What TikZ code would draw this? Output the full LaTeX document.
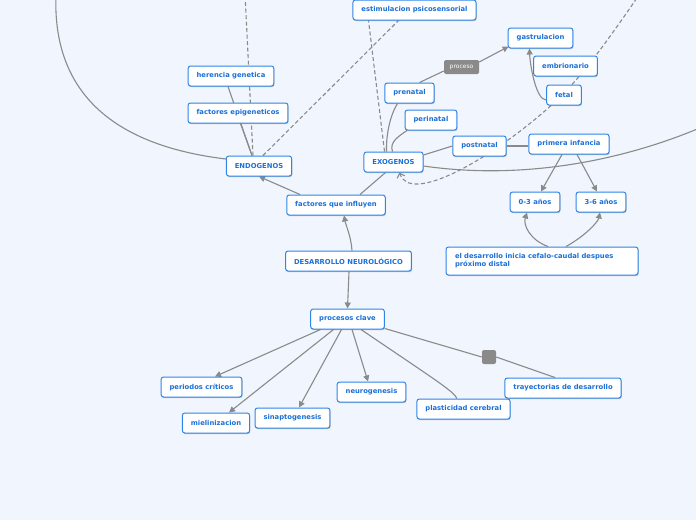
\documentclass[tikz,border=0pt]{standalone}
\usepackage{fontspec}
\setmainfont{DejaVu Sans}
\usetikzlibrary{arrows.meta,calc,shadows}
\definecolor{bgc}{HTML}{F1F5FD}
\definecolor{bord}{HTML}{2F86E8}
\definecolor{txt}{HTML}{1B70D8}
\definecolor{ln}{HTML}{8A8A8A}
\pgfdeclarelayer{bg}
\pgfsetlayers{bg,main}
\tikzset{
  box/.style={draw=bord, line width=1pt, fill=white, rounded corners=2.5pt,
    minimum height=20pt, inner xsep=8.5pt, inner ysep=0pt,
    font=\fontsize{6.8}{8}\selectfont\bfseries, text=txt,
    drop shadow={shadow xshift=0.6pt, shadow yshift=-1.2pt, opacity=0.35, fill=black!60}},
  conn/.style={draw=ln, line width=1.1pt},
  arr/.style={conn, -{Triangle[length=6pt,width=6pt]}},
  dsh/.style={conn, dash pattern=on 4pt off 2.5pt},
}
\begin{document}
\begin{tikzpicture}[x=1pt,y=-1pt]
\useasboundingbox (0,0) rectangle (696,520);
% nodes
\node[box] (ep) at (414.5,10) {estimulacion psicosensorial};
\node[box] (ga) at (540.5,38) {gastrulacion};
\node[box] (em) at (565.5,66) {embrionario};
\node[box] (ft) at (564,95) {fetal};
\node[fill=ln, rounded corners=1.5pt, text=white, font=\fontsize{6}{7}\selectfont,
  minimum width=35pt, minimum height=14pt, inner sep=0pt] (pc) at (461.5,67) {proceso};
\node[box] (pn) at (409.5,93) {prenatal};
\node[box] (pr) at (431,120) {perinatal};
\node[box] (po) at (479.5,146) {postnatal};
\node[box] (pi) at (569,144) {primera infancia};
\node[box] (ex) at (393.5,162) {EXOGENOS};
\node[box] (hg) at (231,76) {herencia genetica};
\node[box] (fe) at (238,113) {factores epigeneticos};
\node[box] (en) at (259,166) {ENDOGENOS};
\node[box] (fq) at (336,205) {factores que influyen};
\node[box] (a03) at (535,202) {0-3 años};
\node[box] (a36) at (601,202) {3-6 años};
\node[box, text width=174pt, align=left, inner xsep=9pt, minimum height=28pt,
  font=\fontsize{6.8}{8.2}\selectfont\bfseries] (ed) at (542,261)
  {el desarrollo inicia cefalo-caudal despues\\próximo distal};
\node[box] (dn) at (348.5,261) {DESARROLLO NEUROLÓGICO};
\node[box] (pk) at (347.5,319) {procesos clave};
\node[box] (pcr) at (201.5,387) {periodos críticos};
\node[box] (mi) at (216,423) {mielinizacion};
\node[box] (si) at (292.5,418) {sinaptogenesis};
\node[box] (ne) at (371.5,392) {neurogenesis};
\node[box] (pl) at (463.5,409) {plasticidad cerebral};
\node[box] (tr) at (563,388) {trayectorias de desarrollo};
\node[fill=ln, rounded corners=2pt, minimum size=14pt, inner sep=0pt] (sq) at (489,357) {};
\coordinate (offL) at (56,-6);
\coordinate (top1) at (245,-6);
\coordinate (offR) at (702,127);
\coordinate (offTR) at (639,-5);
\begin{pgfonlayer}{bg}
\fill[bgc] (0,0) rectangle (696,520);
\clip (0,0) rectangle (696,520);
% ENDOGENOS
\draw[conn] ($(en.north)+(-7,0)$) -- ($(hg.south)+(-3,0)$);
\draw[conn] ($(en.north)+(-7,0)$) -- ($(fe.south)+(2.5,0)$);
\draw[conn] ($(en.west)+(0,-7)$) .. controls (110,145) and (52,90) .. (offL);
\draw[dsh] ($(en.north)+(-6,0)$) -- (top1);
\draw[dsh] ($(en.north)+(4,0)$) -- ($(ep.south)+(-16,0)$);
% EXOGENOS
\draw[dsh] ($(ex.north)+(-9,0)$) -- ($(ep.south)+(-46,0)$);
\draw[conn] ($(ex.north)+(-7,0)$) .. controls (386,130) and (392,112) .. ($(pn.south)+(-12,0)$);
\draw[conn] ($(ex.north)+(-1,0)$) .. controls (389,142) and (399,136) .. ($(pr.south)+(-24,0)$);
\draw[conn] ($(ex.east)+(0,-7)$) -- (po.west);
\draw[conn] ($(ex.east)+(0,4)$) .. controls (520,180) and (620,162) .. (offR);
% prenatal / proceso
\draw[conn] ($(pn.north)+(10,0)$) -- ($(pc.west)+(0,4)$);
\draw[arr] ($(pc.east)+(0,-5)$) -- ($(ga.south west)+(1,-2)$);
\draw[arr] ($(ft.west)+(0,5)$) .. controls (536,100) and (530,65) .. ($(ga.south)+(-11,0)$);
\draw[dsh] ($(ft.north)+(8,0)$) .. controls (590,65) and (615,30) .. (offTR);
\draw[dsh, -{Straight Barb[length=4pt,width=8pt]}] ($(ft.south west)+(5,0)$) .. controls (490,160) and (410,205) .. ($(ex.south)+(6,0)$);
% postnatal
\draw[conn] (po.east) -- ($(pi.west)+(0,2)$);
\draw[arr] ($(pi.south)+(-7,0)$) -- ($(a03.north)+(6,0)$);
\draw[arr] ($(pi.south)+(8,0)$) -- ($(a36.north)+(-4,0)$);
\draw[arr] ($(ed.north)+(6,0)$) .. controls (530,240) and (523,225) .. ($(a03.south)+(-8,0)$);
\draw[arr] ($(ed.north)+(24,0)$) .. controls (585,236) and (598,222) .. ($(a36.south)+(-1,0)$);
% DESARROLLO
\draw[arr] ($(dn.north)+(3.5,0)$) .. controls (351,236) and (346,226) .. ($(fq.south)+(8,0)$);
\draw[arr] ($(fq.north)+(-36,0)$) -- (en.south);
\draw[conn] ($(fq.north)+(24,0)$) -- ($(ex.south)+(-8,0)$);
\draw[arr] ($(dn.south)+(0.5,0)$) -- (pk.north);
% procesos clave
\draw[arr] ($(pk.south)+(-27,0)$) -- ($(pcr.north)+(13.5,0)$);
\draw[arr] ($(pk.south)+(-14,0)$) -- ($(mi.north)+(13,0)$);
\draw[arr] ($(pk.south)+(-6,0)$) -- ($(si.north)+(6.5,0)$);
\draw[arr] ($(pk.south)+(4.5,0)$) -- ($(ne.north)+(-3.5,0)$);
\draw[conn] ($(pk.south)+(13.5,0)$) .. controls (440,383) and (453,391) .. ($(pl.north)+(-6.5,0)$);
\draw[conn] ($(pk.south east)+(0,-1)$) -- (sq.west);
\draw[conn] (sq.east) -- ($(tr.north)+(-8,0)$);
\end{pgfonlayer}
\end{tikzpicture}
\end{document}
